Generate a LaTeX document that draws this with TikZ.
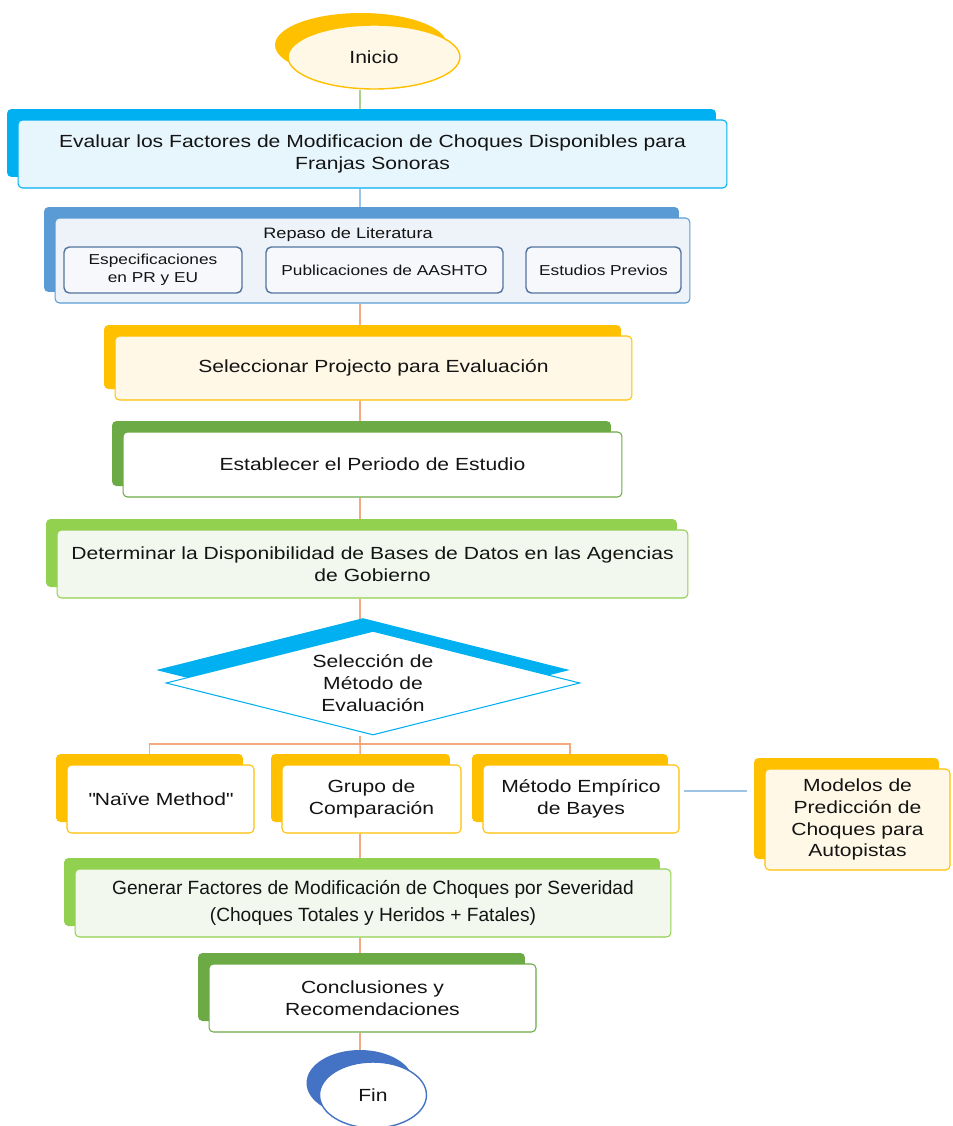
\documentclass[tikz,border=0pt]{standalone}
\usepackage{fontspec}
\setmainfont{Liberation Sans}[FakeStretch=1.2]
\newfontfamily\plainsans{Liberation Sans}
\usetikzlibrary{shapes.geometric,shadows,backgrounds}

\definecolor{cyanS}{HTML}{00B0F0}
\definecolor{bonefill}{HTML}{E7F6FD}
\definecolor{steel}{HTML}{5B9BD5}
\definecolor{btwofill}{HTML}{EEF3FA}
\definecolor{subedge}{HTML}{53749E}
\definecolor{subfill}{HTML}{F6F8FC}
\definecolor{gold}{HTML}{FFC000}
\definecolor{cream}{HTML}{FFF8E6}
\definecolor{dgreen}{HTML}{6CAA45}
\definecolor{lgreen}{HTML}{92D050}
\definecolor{lgfill}{HTML}{F2F8EE}
\definecolor{navy}{HTML}{4472C4}
\definecolor{corange}{HTML}{F4A97E}
\definecolor{cgreen}{HTML}{A9D18E}
\definecolor{cblue}{HTML}{9DC3E6}
\definecolor{ink}{HTML}{141414}

\tikzset{
  sh/.style={drop shadow={shadow xshift=-0.22cm, shadow yshift=0.22cm, fill=#1, opacity=1}},
  box/.style 2 args={draw=#1, fill=#2, line width=0.6pt, rounded corners=2.5pt,
    align=center, inner sep=0pt, text=ink, font=\fontsize{10}{12.5}\selectfont},
  subbox/.style={draw=subedge, fill=subfill, line width=0.8pt, rounded corners=3pt,
    align=center, inner sep=0pt, minimum height=0.92cm, text=ink,
    font=\fontsize{8.2}{10}\selectfont},
  conn/.style={line width=0.9pt},
}

\begin{document}
\begin{tikzpicture}[x=0.02cm,y=-0.02cm]
\useasboundingbox (0,0) rectangle (953,1126);
\coordinate (spine) at (360,0);
\coordinate (tree) at (360,744);

% Start
\node[ellipse, draw=gold, fill=cream, line width=0.8pt, inner sep=0pt,
  minimum width=3.44cm, minimum height=1.28cm, text=ink,
  font=\fontsize{10}{12.5}\selectfont,
  drop shadow={shadow xshift=-0.26cm, shadow yshift=0.24cm, fill=gold, opacity=1}]
  (inicio) at (374,57) {Inicio};

\node[box={cyanS}{bonefill}, sh=cyanS, minimum width=14.18cm, minimum height=1.36cm]
  (b1) at (372.5,154) {Evaluar los Factores de Modificacion de Choques Disponibles para\\Franjas Sonoras};

\node[box={steel}{btwofill}, sh=steel, minimum width=12.7cm, minimum height=1.7cm]
  (b2) at (372.5,260.5) {};
\node[text=ink, font=\fontsize{8.6}{10}\selectfont, inner sep=0pt] (b2t) at (348,235) {Repaso de Literatura};
\node[subbox, minimum width=3.56cm] (s1) at (153,270) {Especificaciones\\en PR y EU};
\node[subbox, minimum width=4.74cm] (s2) at (384.5,270) {Publicaciones de AASHTO};
\node[subbox, minimum width=3.1cm] (s3) at (603.5,270) {Estudios Previos};

\node[box={gold}{cream}, sh=gold, minimum width=10.34cm, minimum height=1.28cm]
  (b3) at (373.5,368) {Seleccionar Projecto para Evaluación};

\node[box={dgreen}{white}, sh=dgreen, minimum width=9.98cm, minimum height=1.3cm]
  (b4) at (372.5,464.5) {Establecer el Periodo de Estudio};

\node[box={lgreen}{lgfill}, sh=lgreen, minimum width=12.62cm, minimum height=1.36cm]
  (b5) at (372.5,564) {Determinar la Disponibilidad de Bases de Datos en las Agencias\\de Gobierno};

% Decision
\node[diamond, aspect=4, draw=cyanS, fill=white, line width=0.6pt, inner sep=0pt,
  minimum width=8.28cm, minimum height=2.08cm, align=center, text=ink,
  font=\fontsize{10}{12.5}\selectfont,
  drop shadow={shadow xshift=-0.2cm, shadow yshift=0.26cm, fill=cyanS, opacity=1}]
  (dia) at (373,683) {Selección de\\Método de\\Evaluación};

\node[box={gold}{white}, sh=gold, minimum width=3.74cm, minimum height=1.36cm]
  (m1) at (160.5,799) {\textquotedbl Naïve Method\textquotedbl};
\node[box={gold}{white}, sh=gold, minimum width=3.58cm, minimum height=1.36cm]
  (m2) at (371.5,799) {Grupo de\\Comparación};
\node[box={gold}{white}, sh=gold, minimum width=3.92cm, minimum height=1.36cm]
  (m3) at (581,799) {Método Empírico\\de Bayes};

\node[box={gold}{cream}, sh=gold, minimum width=3.7cm, minimum height=2.02cm]
  (modelos) at (857.5,819.5) {Modelos de\\Predicción de\\Choques para\\Autopistas};

\node[box={lgreen}{lgfill}, sh=lgreen, minimum width=11.92cm, minimum height=1.36cm,
  font=\plainsans\fontsize{10.9}{15.5}\selectfont]
  (gen) at (373,903) {Generar Factores de Modificación de Choques por Severidad\\(Choques Totales y Heridos + Fatales)};

\node[box={dgreen}{white}, sh=dgreen, minimum width=6.54cm, minimum height=1.36cm]
  (concl) at (372.5,998) {Conclusiones y\\Recomendaciones};

\node[ellipse, draw=navy, fill=white, line width=0.8pt, inner sep=0pt,
  minimum width=2.14cm, minimum height=1.32cm, text=ink,
  font=\fontsize{10}{12.5}\selectfont,
  drop shadow={shadow xshift=-0.26cm, shadow yshift=0.24cm, fill=navy, opacity=1}]
  (fin) at (373,1095) {Fin};

\begin{scope}[on background layer]
  \fill[white] (0,0) rectangle (953,1126);
  \draw[conn, cgreen] (inicio.south -| spine) -- (b1.north -| spine);
  \draw[conn, cblue] (b1.south -| spine) -- (b2.north -| spine);
  \draw[conn, corange] (b2.south -| spine) -- (b3.north -| spine);
  \draw[conn, corange] (b3.south -| spine) -- (b4.north -| spine);
  \draw[conn, corange] (b4.south -| spine) -- (b5.north -| spine);
  \draw[conn, corange] (b5.south -| spine) -- (dia.north -| spine);
  \draw[conn, corange] (dia.south -| spine) -- (tree);
  \draw[conn, corange] ([xshift=-0.22cm]m1.north) |- (tree) -| ([xshift=-0.22cm]m3.north);
  \draw[conn, corange] (tree) -- ([xshift=-0.22cm]m2.north);
  \coordinate (mlink) at ([yshift=0.16cm]m3.east);
  \draw[conn, cblue, shorten <=0.08cm, shorten >=0.36cm] (mlink) -- (mlink -| modelos.west);
  \draw[conn, corange] (m2.south -| spine) -- (gen.north -| spine);
  \draw[conn, corange] (gen.south -| spine) -- (concl.north -| spine);
  \draw[conn, corange] (concl.south -| spine) -- (fin.north -| spine);
\end{scope}
\end{tikzpicture}
\end{document}
